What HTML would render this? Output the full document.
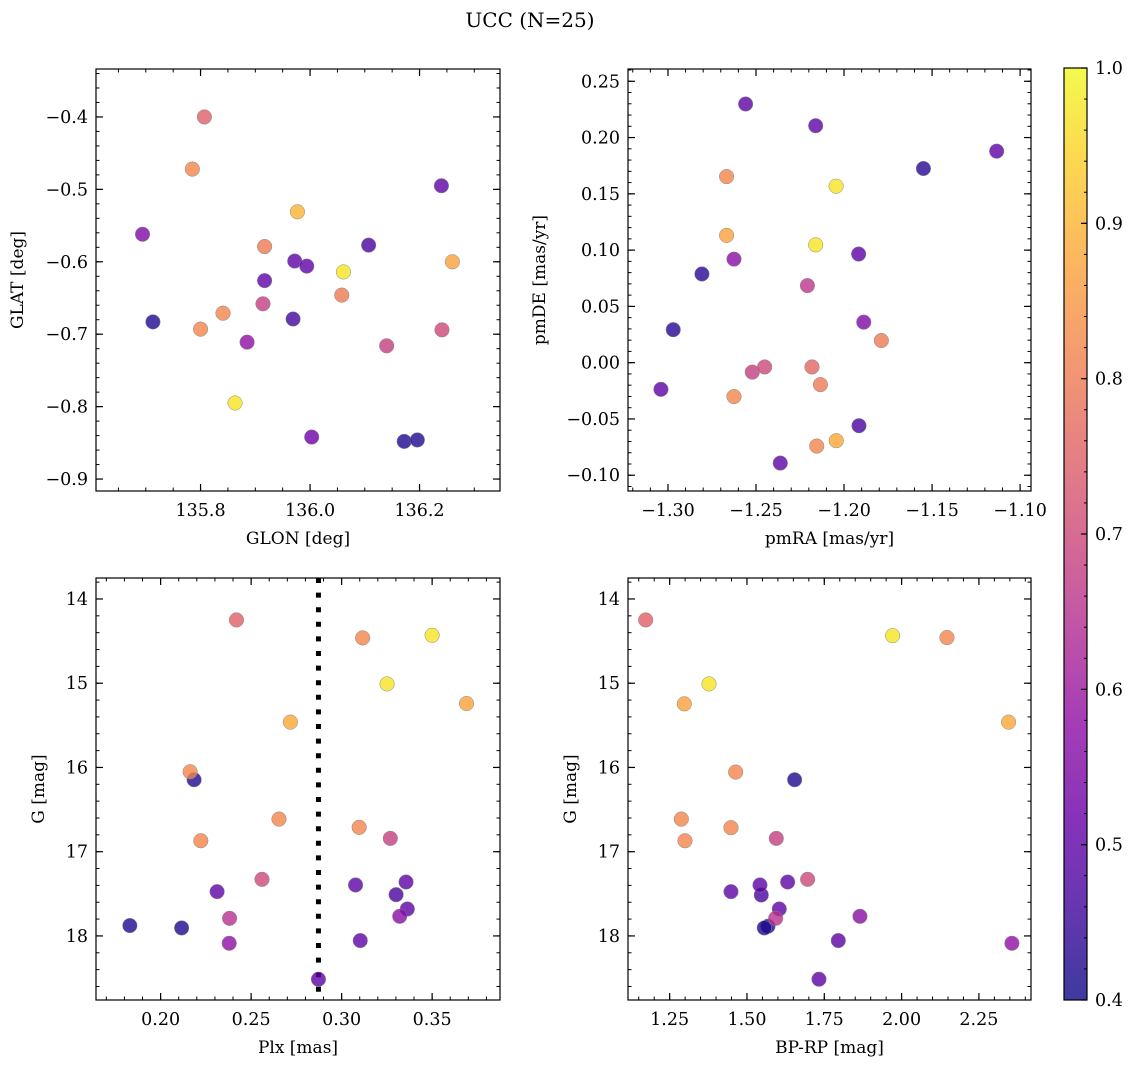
<!DOCTYPE html>
<html><head><meta charset="utf-8">
<style>
html,body{margin:0;padding:0;background:#fff;}
svg{display:block;font-family:"DejaVu Serif","Liberation Serif",serif;}
</style></head>
<body>
<svg id="fig" width="1136" height="1068" viewBox="0 0 1136 1068" xmlns="http://www.w3.org/2000/svg">
<text x="530" y="27" font-size="20" text-anchor="middle">UCC (N=25)</text>
</svg>
<script>
// ---- data ----
const tlGlon=[135.807,135.785,136.240,135.977,135.694,135.917,136.107,135.972,135.994,136.061,136.260,135.917,136.058,135.914,135.713,135.841,135.800,135.969,136.241,136.140,135.885,135.863,136.003,136.172,136.196];
const tlGlat=[-0.400,-0.472,-0.495,-0.531,-0.562,-0.579,-0.577,-0.599,-0.606,-0.614,-0.600,-0.626,-0.646,-0.658,-0.683,-0.671,-0.693,-0.679,-0.694,-0.716,-0.711,-0.795,-0.842,-0.848,-0.846];
const tlProb=[0.75,0.82,0.5,0.9,0.55,0.8,0.47,0.5,0.5,0.97,0.87,0.5,0.8,0.68,0.42,0.82,0.82,0.46,0.7,0.68,0.58,0.97,0.52,0.42,0.42];

const trPmra=[-1.2559,-1.2161,-1.1133,-1.1549,-1.2667,-1.2045,-1.2667,-1.2161,-1.1917,-1.2625,-1.2807,-1.2208,-1.2970,-1.1888,-1.1788,-1.2451,-1.2521,-1.2182,-1.2134,-1.3040,-1.2625,-1.1915,-1.2044,-1.2155,-1.2362];
const trPmde=[0.2298,0.2105,0.1879,0.1725,0.1653,0.1568,0.1131,0.1047,0.0965,0.0920,0.0788,0.0685,0.0293,0.0360,0.0197,-0.0038,-0.0084,-0.0038,-0.0195,-0.0237,-0.0301,-0.0560,-0.0693,-0.0741,-0.0892];
const trProb=[0.5,0.5,0.5,0.43,0.82,0.97,0.87,0.97,0.5,0.57,0.43,0.66,0.43,0.55,0.8,0.7,0.68,0.76,0.8,0.5,0.82,0.47,0.88,0.82,0.5];

const blPlx=[0.2419,0.3116,0.3500,0.3251,0.3690,0.2717,0.2163,0.2185,0.2654,0.3097,0.2222,0.3269,0.2560,0.2312,0.3077,0.3356,0.3301,0.3363,0.3321,0.2381,0.1830,0.2116,0.2379,0.3103,0.2872];
const blG=[14.249,14.462,14.431,15.008,15.241,15.462,16.051,16.146,16.613,16.711,16.870,16.842,17.328,17.474,17.395,17.360,17.510,17.680,17.767,17.791,17.877,17.905,18.087,18.055,18.514];
const blProb=[0.75,0.82,0.97,0.97,0.87,0.88,0.82,0.42,0.82,0.82,0.82,0.68,0.7,0.5,0.5,0.5,0.47,0.5,0.57,0.65,0.42,0.42,0.58,0.5,0.5];
const plxLine=[0.2872];

const brBprp=[1.1724,1.9709,2.1466,1.3772,1.2974,2.3459,1.4634,1.6541,1.2877,1.4483,1.2996,1.5948,1.6961,1.4483,1.5420,1.6315,1.5463,1.6045,1.8653,1.5927,1.5679,1.5560,2.3567,1.7953,1.7328];
const brG=[14.249,14.435,14.458,15.008,15.245,15.462,16.055,16.146,16.613,16.715,16.870,16.842,17.328,17.474,17.395,17.360,17.514,17.680,17.767,17.791,17.885,17.905,18.087,18.055,18.514];
const brProb=[0.75,0.97,0.82,0.97,0.87,0.88,0.82,0.42,0.82,0.82,0.82,0.68,0.7,0.5,0.5,0.5,0.47,0.5,0.57,0.65,0.42,0.42,0.58,0.5,0.5];

const tlXTicks=[135.8,136.0,136.2], tlXLabels=["135.8","136.0","136.2"];
const tlYTicks=[-0.4,-0.5,-0.6,-0.7,-0.8,-0.9], tlYLabels=["−0.4","−0.5","−0.6","−0.7","−0.8","−0.9"];
const trXTicks=[-1.30,-1.25,-1.20,-1.15,-1.10], trXLabels=["−1.30","−1.25","−1.20","−1.15","−1.10"];
const trYTicks=[0.25,0.20,0.15,0.10,0.05,0.00,-0.05,-0.10], trYLabels=["0.25","0.20","0.15","0.10","0.05","0.00","−0.05","−0.10"];
const blXTicks=[0.20,0.25,0.30,0.35], blXLabels=["0.20","0.25","0.30","0.35"];
const gTicks=[14,15,16,17,18], gLabels=["14","15","16","17","18"];
const brXTicks=[1.25,1.50,1.75,2.00,2.25], brXLabels=["1.25","1.50","1.75","2.00","2.25"];
const cbTicks=[0.4,0.5,0.6,0.7,0.8,0.9,1.0], cbLabels=["0.4","0.5","0.6","0.7","0.8","0.9","1.0"];

// ---- helpers ----
const NS="http://www.w3.org/2000/svg";
const svg=document.getElementById('fig');
function mk(tag,attrs,parent){const e=document.createElementNS(NS,tag);for(const k in attrs)e.setAttribute(k,attrs[k]);(parent||svg).appendChild(e);return e;}
const PL=[[0,[13,8,135]],[0.1,[65,4,157]],[0.2,[106,0,168]],[0.3,[143,13,164]],[0.4,[177,42,144]],[0.5,[204,71,120]],[0.6,[225,100,98]],[0.7,[242,132,75]],[0.8,[252,166,54]],[0.9,[252,206,37]],[1.0,[240,249,33]]];
function plasma(t){t=Math.max(0,Math.min(1,t));for(let i=1;i<PL.length;i++){if(t<=PL[i][0]){const a=PL[i-1],b=PL[i],f=(t-a[0])/(b[0]-a[0]);const c=a[1].map((v,j)=>Math.round(v+(b[1][j]-v)*f));return `rgb(${c[0]},${c[1]},${c[2]})`;}}return 'rgb(240,249,33)';}
const CMIN=0.4,CMAX=1.0;
function cnorm(v){return (v-CMIN)/(CMAX-CMIN);}
const FS=17.5;

function panel(p){
  const g=mk('g',{});
  
  
  const sx=v=>p.x0+(v-p.xmin)/(p.xmax-p.xmin)*(p.x1-p.x0);
  const sy=v=>p.inv? p.y0+(v-p.ymin)/(p.ymax-p.ymin)*(p.y1-p.y0) : p.y1-(v-p.ymin)/(p.ymax-p.ymin)*(p.y1-p.y0);
  const eps=1e-9;
  for(let v=Math.ceil(p.xmin/p.xminor-eps)*p.xminor; v<=p.xmax+eps; v+=p.xminor){const X=sx(v);
    mk('line',{x1:X,x2:X,y1:p.y1,y2:p.y1-3.5,stroke:'#000','stroke-width':1},g);
    mk('line',{x1:X,x2:X,y1:p.y0,y2:p.y0+3.5,stroke:'#000','stroke-width':1},g);}
  for(let v=Math.ceil(p.ymin/p.yminor-eps)*p.yminor; v<=p.ymax+eps; v+=p.yminor){const Y=sy(v);
    mk('line',{x1:p.x0,x2:p.x0+3.5,y1:Y,y2:Y,stroke:'#000','stroke-width':1},g);
    mk('line',{x1:p.x1,x2:p.x1-3.5,y1:Y,y2:Y,stroke:'#000','stroke-width':1},g);}
  p.xt.forEach((v,i)=>{const X=sx(v);
    mk('line',{x1:X,x2:X,y1:p.y1,y2:p.y1-7,stroke:'#000','stroke-width':1.2},g);
    mk('line',{x1:X,x2:X,y1:p.y0,y2:p.y0+7,stroke:'#000','stroke-width':1.2},g);
    const t=mk('text',{x:X,y:p.y1+25,'font-size':FS,'text-anchor':'middle'},g);t.textContent=p.xl[i];
    
    });
  p.yt.forEach((v,i)=>{const Y=sy(v);
    mk('line',{x1:p.x0,x2:p.x0+7,y1:Y,y2:Y,stroke:'#000','stroke-width':1.2},g);
    mk('line',{x1:p.x1,x2:p.x1-7,y1:Y,y2:Y,stroke:'#000','stroke-width':1.2},g);
    const t=mk('text',{x:p.x0-8,y:Y+6,'font-size':FS,'text-anchor':'end'},g);t.textContent=p.yl[i];
    
    });
  if(p.vline){p.vline.forEach(v=>{const l=mk('line',{x1:sx(v),x2:sx(v),y1:p.y0,y2:p.y1,stroke:'#000','stroke-width':5,'stroke-dasharray':'5 9.6'},g);
    
    });}
  const idx=p.xs.map((_,i)=>i).sort((a,b)=>p.cs[a]-p.cs[b]);
  idx.forEach(i=>{const c=mk('circle',{cx:sx(p.xs[i]),cy:sy(p.ys[i]),r:7.3,fill:plasma(cnorm(p.cs[i])),'fill-opacity':0.8,stroke:'#888','stroke-width':0.5},g);
    
    });
  mk('rect',{x:p.x0,y:p.y0,width:p.x1-p.x0,height:p.y1-p.y0,fill:'none',stroke:'#000','stroke-width':1.2},g);
  const xl=mk('text',{x:(p.x0+p.x1)/2,y:p.y1+53,'font-size':17,'text-anchor':'middle'},g);xl.textContent=p.xlab;
  
  
  const yx=p.ylx, yy=(p.y0+p.y1)/2;
  const yl=mk('text',{x:yx,y:yy,'font-size':17,'text-anchor':'middle',transform:`rotate(-90 ${yx} ${yy})`},g);yl.textContent=p.ylab;
  
  
}

panel({name:'glon-glat-panel',x0:96,x1:500,y0:69,y1:491,xmin:135.609,xmax:136.347,ymin:-0.9165,ymax:-0.3338,
  xminor:0.05,yminor:0.02,xt:tlXTicks,xl:tlXLabels,yt:tlYTicks,yl:tlYLabels,xs:tlGlon,ys:tlGlat,cs:tlProb,
  xlab:'GLON [deg]',ylab:'GLAT [deg]',ylx:23});
panel({name:'pm-panel',x0:628,x1:1031,y0:69,y1:491,xmin:-1.3227,xmax:-1.0938,ymin:-0.1140,ymax:0.2609,
  xminor:0.01,yminor:0.01,xt:trXTicks,xl:trXLabels,yt:trYTicks,yl:trYLabels,xs:trPmra,ys:trPmde,cs:trProb,
  xlab:'pmRA [mas/yr]',ylab:'pmDE [mas/yr]',ylx:545});
panel({name:'plx-g-panel',x0:96,x1:500,y0:578,y1:1000,xmin:0.1643,xmax:0.3875,ymin:13.751,ymax:18.7605,inv:true,
  xminor:0.01,yminor:0.2,xt:blXTicks,xl:blXLabels,yt:gTicks,yl:gLabels,xs:blPlx,ys:blG,cs:blProb,vline:plxLine,
  xlab:'Plx [mas]',ylab:'G [mag]',ylx:44});
panel({name:'color-mag-panel',x0:628,x1:1031,y0:578,y1:1000,xmin:1.1153,xmax:2.4184,ymin:13.751,ymax:18.7605,inv:true,
  xminor:0.05,yminor:0.2,xt:brXTicks,xl:brXLabels,yt:gTicks,yl:gLabels,xs:brBprp,ys:brG,cs:brProb,
  xlab:'BP-RP [mag]',ylab:'G [mag]',ylx:576});

// colorbar
const cb=mk('g',{});


const defs=mk('defs',{},cb);
const lg=mk('linearGradient',{id:'plg',x1:0,y1:1,x2:0,y2:0},defs);
for(let i=0;i<=20;i++){mk('stop',{offset:i/20,'stop-color':plasma(i/20)},lg);}
const CBX0=1064,CBX1=1087,CBY0=68,CBY1=1000;
mk('rect',{x:CBX0,y:CBY0,width:CBX1-CBX0,height:CBY1-CBY0,fill:'url(#plg)','fill-opacity':0.8},cb);
mk('rect',{x:CBX0,y:CBY0,width:CBX1-CBX0,height:CBY1-CBY0,fill:'none',stroke:'#000','stroke-width':1.2},cb);
const cy=v=>CBY1-(v-CMIN)/(CMAX-CMIN)*(CBY1-CBY0);
for(let v=0.42;v<1.0-1e-9;v+=0.02){mk('line',{x1:CBX1,x2:CBX1-3,y1:cy(v),y2:cy(v),stroke:'#000','stroke-width':1},cb);}
cbTicks.forEach((v,i)=>{mk('line',{x1:CBX1,x2:CBX1-6,y1:cy(v),y2:cy(v),stroke:'#000','stroke-width':1.2},cb);
  const t=mk('text',{x:CBX1+8,y:cy(v)+6,'font-size':FS},cb);t.textContent=cbLabels[i];
  
  });
</script>
</body></html>
